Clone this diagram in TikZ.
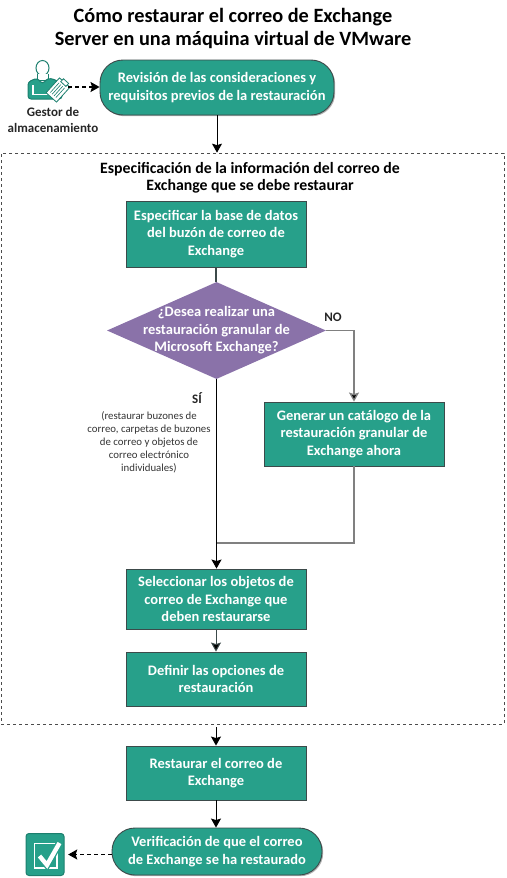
\documentclass[tikz,border=0pt]{standalone}
\usepackage{fontspec}
\setmainfont{Carlito}
\usetikzlibrary{arrows.meta,shapes.geometric,shadows}
\definecolor{tealfill}{HTML}{27A08A}
\definecolor{tealdark}{HTML}{1C7F6E}
\definecolor{purplefill}{HTML}{8A72A9}
\definecolor{boxline}{HTML}{3C4A4A}
\tikzset{
    softshadow/.style={drop shadow={shadow xshift=1.2pt,shadow yshift=-1.2pt,fill=black,opacity=0.3}},
    stepbox/.style={rectangle,draw=boxline,line width=0.9pt,fill=tealfill,text=white,font=\bfseries\fontsize{14.5}{17.5}\selectfont,align=center,minimum width=180pt,softshadow},
    ovalbox/.style={rectangle,rounded corners=23pt,draw=boxline,line width=0.9pt,fill=tealfill,text=white,font=\bfseries\fontsize{14.5}{17.5}\selectfont,align=center,softshadow},
    bigtip/.style={-{Stealth[length=9pt,width=10pt,inset=1.5pt,fill=black]}},
    flow/.style={bigtip,line width=1pt,black},
    plainline/.style={line width=1.1pt,boxline},
    grayline/.style={line width=1.3pt,gray},
    dashflow/.style={flow,line width=1.1pt,dash pattern=on 4pt off 3pt},
    smalltext/.style={font=\fontsize{10.8}{13}\selectfont,align=center,text=black!80},
    headtext/.style={font=\bfseries\fontsize{13}{16}\selectfont,align=center,text=black!85}
}
\begin{document}
\begin{tikzpicture}[x=1pt,y=-1pt]
    \useasboundingbox (0,0) rectangle (506,878);
    \node[font=\bfseries\fontsize{20.3}{23}\selectfont,align=center] (title) at (233,28) {Cómo restaurar el correo de Exchange\\Server en una máquina virtual de VMware};
    \node[draw=black!70,dashed,line width=0.7pt,minimum width=503pt,minimum height=571pt,inner sep=0pt] (frame) at (252.5,438.5) {};
    \node[font=\bfseries\fontsize{15.8}{17.5}\selectfont,align=center] (frametitle) at (250,178) {Especificación de la información del correo de\\Exchange que se debe restaurar};

    \node[ovalbox,minimum width=234pt,minimum height=55pt] (revision) at (217,87.5) {Revisión de las consideraciones y\\requisitos previos de la restauración};
    \node[stepbox,minimum height=66pt] (especificar) at (216,234) {Especificar la base de datos\\del buzón de correo de\\Exchange};
    \node[diamond,aspect=2.26,draw=none,fill=purplefill,minimum width=219pt,minimum height=97pt,inner sep=0pt,
        label={[text=white,font=\bfseries\fontsize{14.5}{17.5}\selectfont,align=center]center:{¿Desea realizar una\\restauración granular de\\Microsoft Exchange?}}] (decision) at (216.5,330.5) {};
    \node[stepbox,minimum height=64pt] (catalogo) at (354,434) {Generar un catálogo de la\\restauración granular de\\Exchange ahora};
    \node[stepbox,minimum height=60pt] (seleccionar) at (216,599) {Seleccionar los objetos de\\correo de Exchange que\\deben restaurarse};
    \node[stepbox,minimum height=54pt] (definir) at (216,679) {Definir las opciones de\\restauración};
    \node[stepbox,minimum height=54pt] (restaurar) at (216,773) {Restaurar el correo de\\Exchange};
    \node[ovalbox,minimum width=210pt,minimum height=47pt] (verificacion) at (217,851.5) {Verificación de que el correo\\de Exchange se ha restaurado};

    \node[headtext] (gestor) at (53,120) {Gestor de\\almacenamiento};
    \node[headtext] (no) at (333,317) {NO};
    \node[headtext] (si) at (197,398) {SÍ};
    \node[smalltext] (nota) at (149,442.5) {(restaurar buzones de\\correo, carpetas de buzones\\de correo y objetos de\\correo electrónico\\individuales)};

    \coordinate (usuario) at (68,87);
    \coordinate (merge) at (216.5,543);
    \node[inner sep=0pt,minimum width=39pt,minimum height=43pt] (checkicon) at (45.5,854.5) {};

    \draw[tealdark,line width=1pt,fill=white] (42.5,68) ellipse (6.5 and 7.5);
    \draw[tealdark,line width=1pt,fill=white] (37,74) -- (37,80) -- (48,80) -- (48,74);
    \draw[tealdark,line width=1pt,fill=tealfill,rounded corners=3pt] (28,99) -- (28,82) -- (37,78) -- (42.5,84) -- (48,78) -- (56,80) -- (62,84) -- (62,99) -- cycle;
    \draw[white,line width=1.3pt] (33,85) -- (33,94.5) -- (52,94.5);
    \begin{scope}[shift={(58,90)},rotate=48]
        \draw[tealdark,line width=0.8pt,fill=white] (-10,-7) rectangle (10,7);
        \draw[tealdark,line width=0.8pt,fill=white] (8,-3.5) rectangle (12,3.5);
        \foreach \i in {-4,-1.5,1,3.5} {
            \draw[tealdark,line width=0.6pt] (-7,\i) -- (6,\i);
        }
    \end{scope}

    \draw[tealdark,line width=1pt,fill=tealfill,rounded corners=3pt] (26,833.5) rectangle (64,875.5);
    \draw[white,line width=1.5pt] (34.5,843.5) rectangle (57,868);
    \draw[tealfill,line width=7pt] (39.5,856) -- (47,865) -- (59.5,843);
    \draw[white,line width=4.4pt] (39.5,856) -- (47,865) -- (59.5,843);

    \draw[dashflow] (usuario) -- (usuario -| revision.west);
    \draw[flow] (revision.south) -- (revision |- frame.north);
    \draw[plainline] (especificar.south) -- (especificar.south |- decision.north);
    \draw[grayline,bigtip] (decision.east) -| (catalogo.north);
    \draw[grayline] (catalogo.south) |- (merge);
    \draw[flow,line width=1.5pt] (decision.south) -- (decision.south |- seleccionar.north);
    \draw[flow,boxline] (seleccionar.south) -- (definir.north);
    \draw[flow] (restaurar |- frame.south) ++(0,3) -- (restaurar.north);
    \draw[flow] (restaurar.south) -- (verificacion.north -| restaurar.south);
    \draw[dashflow] (checkicon.east -| verificacion.west) -- ([xshift=3pt]checkicon.east);
\end{tikzpicture}
\end{document}
